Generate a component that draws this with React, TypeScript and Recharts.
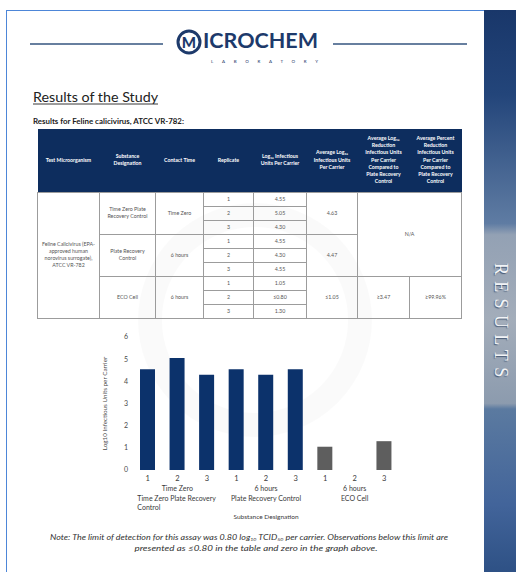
import { Bar, BarChart, Cell, Label, XAxis, YAxis } from "recharts";

// chart data
const replicates = ["1", "2", "3"];
const contactTimes = ["Time Zero", "6 hours", "6 hours"];
const substanceLines = [
  ["Time Zero Plate Recovery", "Control"],
  ["Plate Recovery Control"],
  ["ECO Cell"],
];
const timeZeroValues = [4.55, 5.05, 4.3];
const plateRecoveryValues = [4.55, 4.3, 4.55];
const ecoCellValues = [1.05, 0, 1.3];
const groupColors = ["#0c326b", "#0c326b", "#5e5e5e"];
const yTicks = [0, 1, 2, 3, 4, 5, 6];

// table data
const tableHeaders = [
  ["Test Microorganism"],
  ["Substance", "Designation"],
  ["Contact Time"],
  ["Replicate"],
  ["Log₁₀ Infectious", "Units Per Carrier"],
  ["Average Log₁₀", "Infectious Units", "Per Carrier"],
  ["Average Log₁₀", "Reduction", "Infectious Units", "Per Carrier", "Compared to", "Plate Recovery", "Control"],
  ["Average Percent", "Reduction", "Infectious Units", "Per Carrier", "Compared to", "Plate Recovery", "Control"],
];
const organismLines = ["Feline Calicivirus (EPA-", "approved human", "norovirus surrogate),", "ATCC VR-782"];
const tableSubstances = [["Time Zero Plate", "Recovery Control"], ["Plate Recovery", "Control"], ["ECO Cell"]];
const tableTimes = ["Time Zero", "6 hours", "6 hours"];
const tableLogs = [
  ["4.55", "5.05", "4.30"],
  ["4.55", "4.30", "4.55"],
  ["1.05", "≤0.80", "1.30"],
];
const tableAverages = ["4.63", "4.47", "≤1.05"];
const ecoReduction = "≥3.47";
const ecoPercent = "≥99.96%";
const colWidths = [62, 56, 48, 50, 53, 51, 52, 52];

const chartData = [timeZeroValues, plateRecoveryValues, ecoCellValues].flatMap((vals, g) =>
  vals.map((v, r) => ({ key: `${g}-${r}`, group: g, rep: r, value: v })),
);

const navy = "#0d2d5e";
const cellBorder = "1px solid #9c9c9c";

function CategoryTick(props: any) {
  const { x, y, payload } = props;
  const d = chartData.find((c) => c.key === payload.value);
  if (!d) return null;
  const lines = substanceLines[d.group];
  return (
    <g fill="#3a3a3a" fontFamily="Lato, sans-serif">
      <text x={x} y={y} dy="0.71em" textAnchor="middle" fontSize={7.5}>
        {replicates[d.rep]}
      </text>
      {d.rep === 1 && (
        <>
          <text x={x} y={y + 14.5} textAnchor="middle" fontSize={7}>
            {contactTimes[d.group]}
          </text>
          {lines.map((line, i) => (
            <text
              key={line}
              x={lines.length > 1 ? x - 40 : x}
              y={y + 24.5 + i * 9}
              textAnchor={lines.length > 1 ? "start" : "middle"}
              fontSize={7}
            >
              {line}
            </text>
          ))}
        </>
      )}
    </g>
  );
}

function ResultsChart() {
  return (
    <BarChart
      width={330}
      height={200}
      data={chartData}
      margin={{ top: 10, right: 11, bottom: 0, left: 0 }}
      barSize={15}
    >
      <XAxis
        dataKey="key"
        axisLine={false}
        tickLine={false}
        tickMargin={0}
        height={57}
        interval={0}
        tick={<CategoryTick />}
      >
        <Label
          value="Substance Designation"
          position="insideBottom"
          offset={8}
          style={{ fontSize: 6.5, fill: "#3a3a3a", fontFamily: "Lato, sans-serif" }}
        />
      </XAxis>
      <YAxis
        domain={[0, 6]}
        ticks={yTicks}
        axisLine={false}
        tickLine={false}
        tickSize={3}
        width={53}
        tick={{ fontSize: 7, fill: "#4a4a4a", fontFamily: "Lato, sans-serif" }}
        label={({ viewBox }: any) => (
          <text
            x={viewBox.x + 25}
            y={viewBox.y + viewBox.height / 2}
            transform={`rotate(-90, ${viewBox.x + 25}, ${viewBox.y + viewBox.height / 2})`}
            textAnchor="middle"
            dominantBaseline="middle"
            fontSize={6.3}
            fill="#4a4a4a"
            fontFamily="Lato, sans-serif"
          >
            Log10 Infectious Units per Carrier
          </text>
        )}
      />
      <Bar dataKey="value" isAnimationActive={false}>
        {chartData.map((d) => (
          <Cell key={d.key} fill={groupColors[d.group]} />
        ))}
      </Bar>
    </BarChart>
  );
}

function ResultsTable() {
  const td = {
    border: cellBorder,
    padding: 0,
    textAlign: "center" as const,
    verticalAlign: "middle" as const,
    color: "#555",
    fontSize: 5.3,
    lineHeight: "7px",
  };
  const rows: any[] = [];
  tableLogs.forEach((logs, g) => {
    logs.forEach((log, r) => {
      rows.push(
        <tr key={`${g}-${r}`} style={{ height: 14 }}>
          {g === 0 && r === 0 && (
            <td rowSpan={9} style={td}>
              {organismLines.map((l) => (
                <div key={l}>{l}</div>
              ))}
            </td>
          )}
          {r === 0 && (
            <td rowSpan={3} style={td}>
              {tableSubstances[g].map((l) => (
                <div key={l}>{l}</div>
              ))}
            </td>
          )}
          {r === 0 && (
            <td rowSpan={3} style={td}>
              {tableTimes[g]}
            </td>
          )}
          <td style={td}>{replicates[r]}</td>
          <td style={td}>{log}</td>
          {r === 0 && (
            <td rowSpan={3} style={td}>
              {tableAverages[g]}
            </td>
          )}
          {g === 0 && r === 0 && (
            <td rowSpan={6} colSpan={2} style={td}>
              N/A
            </td>
          )}
          {g === 2 && r === 0 && (
            <td rowSpan={3} style={td}>
              {ecoReduction}
            </td>
          )}
          {g === 2 && r === 0 && (
            <td rowSpan={3} style={td}>
              {ecoPercent}
            </td>
          )}
        </tr>,
      );
    });
  });
  return (
    <table
      style={{
        position: "absolute",
        left: 37,
        top: 129,
        width: 424,
        borderCollapse: "collapse",
        tableLayout: "fixed",
        fontFamily: "Lato, sans-serif",
      }}
    >
      <colgroup>
        {colWidths.map((w, i) => (
          <col key={i} style={{ width: w }} />
        ))}
      </colgroup>
      <thead>
        <tr style={{ height: 63, background: navy }}>
          {tableHeaders.map((h, i) => (
            <th
              key={i}
              style={{
                padding: 0,
                color: "#fff",
                fontSize: 5.2,
                lineHeight: "7.3px",
                fontWeight: 700,
                verticalAlign: "middle",
              }}
            >
              {h.map((l) => (
                <div key={l}>{l}</div>
              ))}
            </th>
          ))}
        </tr>
      </thead>
      <tbody>{rows}</tbody>
    </table>
  );
}

export default function App() {
  return (
    <div
      style={{
        position: "absolute",
        left: 0,
        top: 0,
        width: 516,
        height: 572,
        overflow: "hidden",
        background: "#fff",
        fontFamily: "Lato, sans-serif",
      }}
    >
      {/* page border */}
      <div
        style={{
          position: "absolute",
          left: 6,
          top: 10,
          width: 490,
          height: 580,
          border: "1.5px solid #4d86d8",
        }}
      />
      {/* side panel */}
      <div
        style={{
          position: "absolute",
          left: 484,
          top: 10,
          width: 32,
          height: 562,
          background:
            "linear-gradient(to bottom, #19376a 0%, #23457a 15%, #5f7ca3 38%, #93a1b4 40%, #a3adba 55%, #8c9bae 70%, #5b7aa0 71%, #42649a 88%, #2e5185 100%)",
        }}
      />
      <div
        style={{
          position: "absolute",
          left: 489,
          top: 263,
          width: 22,
          height: 125,
          writingMode: "vertical-rl",
          fontFamily: "'Liberation Serif', serif",
          fontSize: 18,
          letterSpacing: 6.3,
          color: "#f2f4f7",
          textShadow: "1px 1px 1px rgba(40,60,90,0.7)",
        }}
      >
        RESULTS
      </div>

      <svg
        width={516}
        height={572}
        style={{ position: "absolute", left: 0, top: 0 }}
        fontFamily="Lato, sans-serif"
      >
        {/* watermark */}
        <circle cx={255} cy={320} r={105} fill="none" stroke="#000" strokeOpacity={0.02} strokeWidth={24} />
        {/* header */}
        <line x1={30} y1={44} x2={163} y2={44} stroke="#35557f" strokeWidth={1.5} />
        <line x1={333} y1={44} x2={467} y2={44} stroke="#35557f" strokeWidth={1.5} />
        <circle cx={189} cy={42} r={11} fill="none" stroke="#1d3a6b" strokeWidth={3} />
        <text x={189} y={47.5} textAnchor="middle" fontSize={15} fontWeight={900} fill="#1d3a6b">
          M
        </text>
        <text
          x={203}
          y={48}
          fontSize={20}
          fontWeight={700}
          fill="#1d3a6b"
          textLength={115}
          lengthAdjust="spacingAndGlyphs"
        >
          ICROCHEM
        </text>
        <text x={211} y={63} fontSize={4.5} fill="#1d3a6b" textLength={107}>
          LABORATORY
        </text>
        {/* titles */}
        <text
          x={33}
          y={101.5}
          fontSize={13}
          fill="#222"
          textLength={125}
          lengthAdjust="spacingAndGlyphs"
        >
          Results of the Study
        </text>
        <line x1={33} y1={104} x2={158} y2={104} stroke="#222" strokeWidth={0.9} />
        <text
          x={33}
          y={124}
          fontSize={7}
          fontWeight={700}
          fill="#222"
          textLength={151}
          lengthAdjust="spacingAndGlyphs"
        >
          Results for Feline calicivirus, ATCC VR-782:
        </text>
        {/* note */}
        <text
          x={249}
          y={539.5}
          textAnchor="middle"
          fontSize={7.5}
          fontStyle="italic"
          fill="#333"
          textLength={398}
          lengthAdjust="spacingAndGlyphs"
        >
          Note: The limit of detection for this assay was 0.80 log
          <tspan fontSize={4.5} dy={1.5}>10</tspan>
          <tspan dy={-1.5}> TCID</tspan>
          <tspan fontSize={4.5} dy={1.5}>50</tspan>
          <tspan dy={-1.5}> per carrier. Observations below this limit are</tspan>
        </text>
        <text
          x={256}
          y={550.5}
          textAnchor="middle"
          fontSize={7.5}
          fontStyle="italic"
          fill="#333"
          textLength={243}
          lengthAdjust="spacingAndGlyphs"
        >
          presented as ≤0.80 in the table and zero in the graph above.
        </text>
      </svg>

      <ResultsTable />

      <div style={{ position: "absolute", left: 80, top: 327 }}>
        <ResultsChart />
      </div>
    </div>
  );
}
